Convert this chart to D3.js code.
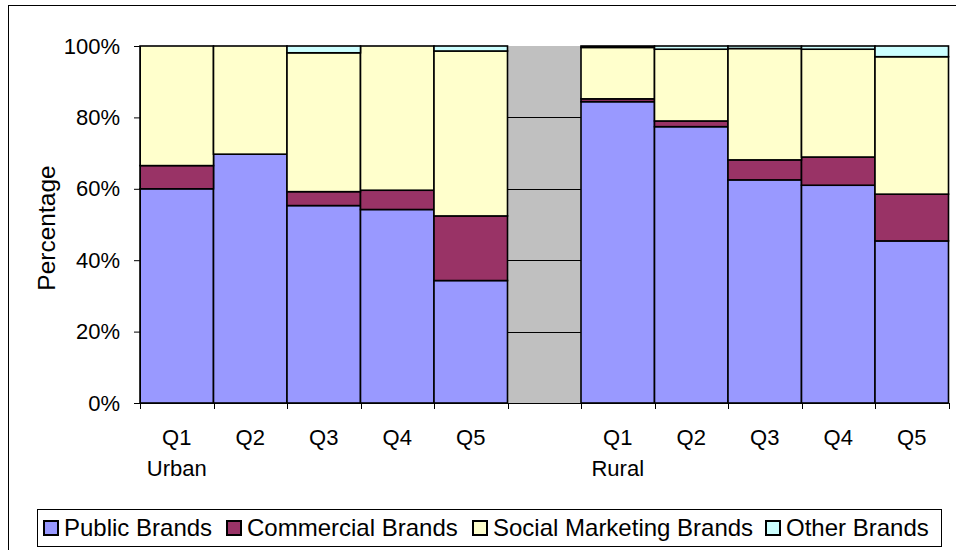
<!DOCTYPE html>
<html>
<head>
<meta charset="utf-8">
<script src="https://cdn.jsdelivr.net/npm/d3@7"></script>
<style>
  body { margin: 0; background: #fff; }
  text { font-family: Arial, "Liberation Sans", sans-serif; fill: #000; }
</style>
</head>
<body>
<div class="chart"></div>
<script>
// === Data (percentages) ===
const categories = ["U-Q1", "U-Q2", "U-Q3", "U-Q4", "U-Q5", "gap", "R-Q1", "R-Q2", "R-Q3", "R-Q4", "R-Q5"];
const tickLabels = ["Q1", "Q2", "Q3", "Q4", "Q5", "", "Q1", "Q2", "Q3", "Q4", "Q5"];
const groupLabels = ["Urban", "", "", "", "", "", "Rural", "", "", "", ""];
const publicBrands     = [60.0, 69.7, 55.3, 54.2, 34.3, 0, 84.4, 77.4, 62.5, 61.0, 45.4];
const commercialBrands = [ 6.5,  0.0,  3.9,  5.4, 18.1, 0,  0.8,  1.6,  5.6,  7.9, 13.1];
const socialBrands     = [33.5, 30.3, 38.9, 40.4, 46.2, 0, 14.4, 20.1, 31.2, 30.2, 38.5];
const otherBrands      = [ 0.0,  0.0,  1.9,  0.0,  1.4, 0,  0.4,  0.9,  0.7,  0.9,  3.0];
const seriesNames = ["Public Brands", "Commercial Brands", "Social Marketing Brands", "Other Brands"];
const seriesColors = ["#9999FF", "#993366", "#FFFFCC", "#CCFFFF"];
const yTicks = [0, 20, 40, 60, 80, 100];

function drawChart() {
    const W = 956, H = 550;
    const margin = ({top: 46, right: 7.5, bottom: 147, left: 140});
    const width = W - margin.left - margin.right,
          height = H - margin.top - margin.bottom;

    const svg = d3.select(".chart").append("svg")
        .attr("width", W)
        .attr("height", H);

    // outer chart frame (runs off the right and bottom edges)
    svg.append("rect")
        .attr("x", 8.5).attr("y", 5.5)
        .attr("width", W + 10).attr("height", H + 10)
        .attr("fill", "none").attr("stroke", "#000").attr("stroke-width", 1);

    const g = svg.append("g")
        .attr("transform", `translate(${margin.left},${margin.top})`);

    // === Scales ===
    const xScale = d3.scaleBand()
        .domain(categories)
        .range([0, width])
        .padding(0);

    const yScale = d3.scaleLinear()
        .domain([0, 100])
        .range([height, 0]);

    // table for the stack
    const table = categories.map((c, i) => ({
        key: c,
        "Public Brands": publicBrands[i],
        "Commercial Brands": commercialBrands[i],
        "Social Marketing Brands": socialBrands[i],
        "Other Brands": otherBrands[i]
    }));
    const stacked = d3.stack().keys(seriesNames)(table);

    // plot area background + gridlines
    g.append("rect")
        .attr("width", width).attr("height", height)
        .attr("fill", "#C0C0C0");

    g.append("g").selectAll("line")
        .data(yTicks.slice(1, -1))
        .enter().append("line")
        .attr("x1", 0).attr("x2", width)
        .attr("y1", d => Math.round(yScale(d)) + 0.5)
        .attr("y2", d => Math.round(yScale(d)) + 0.5)
        .attr("stroke", "#000").attr("stroke-width", 1);

    // === Bars ===
    g.selectAll(".series")
        .data(stacked)
        .enter().append("g")
        .attr("class", "series")
        .attr("fill", (d, i) => seriesColors[i])
        .selectAll("rect")
        .data(d => d.filter(p => p.data.key !== "gap"))
        .enter().append("rect")
        .attr("x", d => xScale(d.data.key))
        .attr("y", d => yScale(d[1]))
        .attr("width", xScale.bandwidth())
        .attr("height", d => yScale(d[0]) - yScale(d[1]))
        .attr("stroke", "#000")
        .attr("stroke-width", 1.6);

    // === Axes ===
    const yAxis = d3.axisLeft(yScale)
        .tickValues(yTicks)
        .tickSize(6)
        .tickPadding(14)
        .tickFormat(d => d + "%");

    const yG = g.append("g").call(yAxis);
    yG.select(".domain").attr("stroke", "#000").attr("d", `M0.5,0V${height}`);
    yG.selectAll("line").attr("stroke", "#000");
    yG.selectAll("text").attr("font-size", "22px")
        .attr("font-family", "Arial, 'Liberation Sans', sans-serif");

    // x axis line and ticks at band edges
    const xG = g.append("g").attr("transform", `translate(0,${height})`);
    xG.append("line")
        .attr("x1", 0).attr("x2", width)
        .attr("y1", 0.5).attr("y2", 0.5)
        .attr("stroke", "#000");
    xG.selectAll(".xtick")
        .data(d3.range(categories.length + 1))
        .enter().append("line")
        .attr("class", "xtick")
        .attr("x1", i => Math.round(i * xScale.step()) + 0.5)
        .attr("x2", i => Math.round(i * xScale.step()) + 0.5)
        .attr("y1", 0).attr("y2", 6)
        .attr("stroke", "#000");

    xG.selectAll(".qlabel")
        .data(categories)
        .enter().append("text")
        .attr("class", "qlabel")
        .attr("x", d => xScale(d) + xScale.bandwidth() / 2)
        .attr("y", 42)
        .attr("text-anchor", "middle")
        .attr("font-size", "22px")
        .text((d, i) => tickLabels[i]);

    xG.selectAll(".glabel")
        .data(categories)
        .enter().append("text")
        .attr("class", "glabel")
        .attr("x", d => xScale(d) + xScale.bandwidth() / 2)
        .attr("y", 73)
        .attr("text-anchor", "middle")
        .attr("font-size", "22px")
        .text((d, i) => groupLabels[i]);

    // y title
    svg.append("text")
        .attr("transform", `translate(55,228) rotate(-90)`)
        .attr("text-anchor", "middle")
        .attr("font-size", "24.5px")
        .text("Percentage");

    // === Legend ===
    const legend = svg.append("g").attr("class", "legend");
    legend.append("rect")
        .attr("x", 37.5).attr("y", 509.5)
        .attr("width", 904).attr("height", 37)
        .attr("fill", "#fff").attr("stroke", "#000").attr("stroke-width", 1);

    const itemStarts = [43, 226, 472, 765];
    seriesNames.forEach((name, i) => {
        const it = legend.append("g")
            .attr("transform", `translate(${itemStarts[i]},0)`);
        it.append("rect")
            .attr("x", 1).attr("y", 521)
            .attr("width", 14).attr("height", 14)
            .attr("fill", seriesColors[i])
            .attr("stroke", "#000").attr("stroke-width", 2);
        it.append("text")
            .attr("x", 21).attr("y", 536)
            .attr("font-size", "24px")
            .text(name);
    });
}

drawChart();
</script>
</body>
</html>
